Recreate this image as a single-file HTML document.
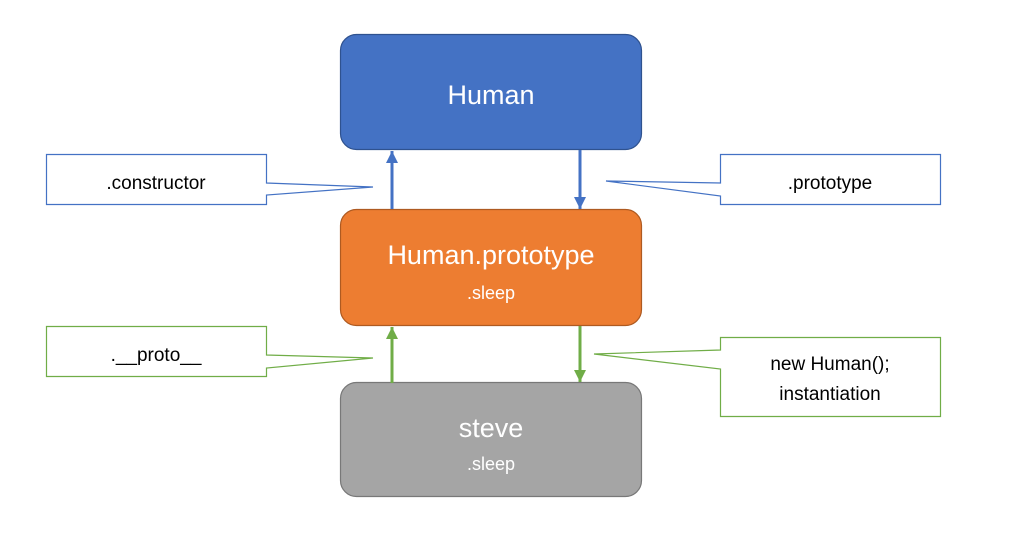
<!DOCTYPE html>
<html><head><style>
body{margin:0;background:#fff;}
svg text{font-family:"Liberation Sans",sans-serif;}
</style></head><body>
<svg width="1011" height="528" viewBox="0 0 1011 528" xmlns="http://www.w3.org/2000/svg">
<defs>
<marker id="hb" markerWidth="12" markerHeight="12" refX="12" refY="6" orient="auto" markerUnits="userSpaceOnUse"><path d="M0,0 L12,6 L0,12 z" fill="#4472c4"/></marker>
<marker id="hg" markerWidth="12" markerHeight="12" refX="12" refY="6" orient="auto" markerUnits="userSpaceOnUse"><path d="M0,0 L12,6 L0,12 z" fill="#70ad47"/></marker>
</defs>
<rect x="340.5" y="34.5" width="301" height="115" rx="16" fill="#4472c4" stroke="#2f528f" stroke-width="1.2"/>
<text x="491" y="104" font-size="27" fill="#fff" text-anchor="middle">Human</text>
<rect x="340.5" y="209.5" width="301" height="116" rx="16" fill="#ed7d31" stroke="#ae5a21" stroke-width="1.2"/>
<text x="491" y="264" font-size="27" fill="#fff" text-anchor="middle">Human.prototype</text>
<text x="491" y="299" font-size="18" fill="#fff" text-anchor="middle">.sleep</text>
<rect x="340.5" y="382.5" width="301" height="114" rx="16" fill="#a5a5a5" stroke="#787878" stroke-width="1.2"/>
<text x="491" y="437" font-size="27" fill="#fff" text-anchor="middle">steve</text>
<text x="491" y="470" font-size="18" fill="#fff" text-anchor="middle">.sleep</text>

<line x1="392" y1="209" x2="392" y2="151" stroke="#4472c4" stroke-width="3" marker-end="url(#hb)"/>
<line x1="580" y1="150" x2="580" y2="209" stroke="#4472c4" stroke-width="3" marker-end="url(#hb)"/>
<line x1="392" y1="383" x2="392" y2="327" stroke="#70ad47" stroke-width="3" marker-end="url(#hg)"/>
<line x1="580" y1="326" x2="580" y2="382" stroke="#70ad47" stroke-width="3" marker-end="url(#hg)"/>

<path d="M46.5,154.5 H266.5 V183 L373,187 L266.5,195 V204.5 H46.5 Z" fill="#fff" stroke="#4472c4" stroke-width="1.2"/>
<text x="156" y="189" font-size="19" fill="#000" text-anchor="middle">.constructor</text>
<path d="M720.5,154.5 H940.5 V204.5 H720.5 V196 L606,181 L720.5,183 Z" fill="#fff" stroke="#4472c4" stroke-width="1.2"/>
<text x="830" y="189" font-size="19" fill="#000" text-anchor="middle">.prototype</text>
<path d="M46.5,326.5 H266.5 V355 L373,358 L266.5,368 V376.5 H46.5 Z" fill="#fff" stroke="#70ad47" stroke-width="1.2"/>
<text x="156" y="361" font-size="19" fill="#000" text-anchor="middle">.__proto__</text>
<path d="M720.5,337.5 H940.5 V416.5 H720.5 V369 L594,354 L720.5,350 Z" fill="#fff" stroke="#70ad47" stroke-width="1.2"/>
<text x="830" y="370" font-size="19" fill="#000" text-anchor="middle">new Human();</text>
<text x="830" y="400" font-size="19" fill="#000" text-anchor="middle">instantiation</text>
</svg>
</body></html>
